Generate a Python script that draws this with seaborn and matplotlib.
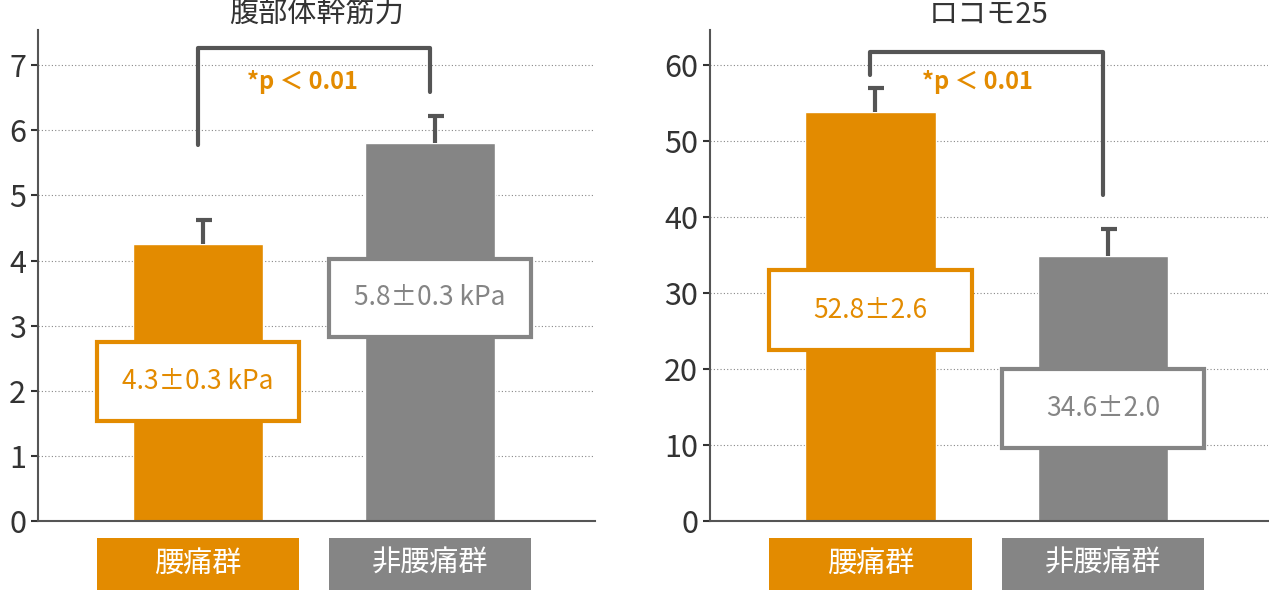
import matplotlib
matplotlib.use("Agg")
import matplotlib.pyplot as plt
import seaborn as sns
import pandas as pd
from matplotlib.patches import Rectangle

sns.set_style("white")
plt.rcParams['font.family'] = ['Noto Sans CJK JP', 'DejaVu Sans']

groups = ["腰痛群", "非腰痛群"]
colors = ["#E38B00", "#858585"]
left_vals = [4.25, 5.8]
left_err = [0.37, 0.42]
left_labels = ["4.3±0.3 kPa", "5.8±0.3 kPa"]
right_vals = [53.8, 34.9]
right_err = [3.2, 3.5]
right_labels = ["52.8±2.6", "34.6±2.0"]

W, H = 1269, 593
fig = plt.figure(figsize=(W/100, H/100), dpi=100)
axL = fig.add_axes([38/W, 72/H, 557/W, 491/H])
axR = fig.add_axes([710/W, 72/H, 558/W, 491/H])

def draw(ax, vals, errs, labels, title, ylim, yticks, boxes, bracket, ptext):
    df = pd.DataFrame({"g": groups, "v": vals})
    sns.barplot(data=df, x="g", y="v", hue="g", palette=colors, width=0.56,
                ax=ax, legend=False, saturation=1)
    for i, (v, e) in enumerate(zip(vals, errs)):
        ax.plot([i + 0.02, i + 0.02], [v, v + e], color="#555555", lw=3, solid_capstyle="butt")
        ax.plot([i - 0.01, i + 0.06], [v + e, v + e], color="#555555", lw=3, solid_capstyle="butt")
    ax.set_xlim(-0.69, 1.71)
    ax.set_ylim(*ylim)
    ax.set_yticks(yticks)
    for t in yticks[1:]:
        ax.axhline(t, color="#888888", lw=0.8, ls=(0, (1, 2)), zorder=0)
    ax.set_xticks([])
    ax.set_xlabel(""); ax.set_ylabel("")
    ax.tick_params(axis="y", labelsize=22, colors="#333333", length=5, width=1.5, direction="out", left=True)
    for s in ["top", "right"]:
        ax.spines[s].set_visible(False)
    for s in ["left", "bottom"]:
        ax.spines[s].set_color("#555555"); ax.spines[s].set_linewidth(1.5)
    ax.set_title(title, fontsize=21, color="#333333", pad=0)
    for i, ((y0, y1), lab) in enumerate(zip(boxes, labels)):
        ax.add_patch(Rectangle((i - 0.435, y0), 0.87, y1 - y0, facecolor="white",
                               edgecolor=colors[i], lw=3, zorder=5))
        ax.text(i, (y0 + y1) / 2, lab, ha="center", va="center", fontsize=19,
                color=colors[i], zorder=6)
    a, b, c = bracket
    ax.plot([0, 0, 1, 1], [a, b, b, c], color="#555555", lw=3, clip_on=False)
    ax.text(ptext[0], ptext[1], "*p ＜ 0.01", ha="center", va="center", fontsize=17,
            color=colors[0], fontweight="bold")
    tr = ax.get_xaxis_transform()
    for i, g in enumerate(groups):
        ax.add_patch(Rectangle((i - 0.435, -0.1405), 0.87, 0.106, transform=tr,
                               facecolor=colors[i], edgecolor="none", clip_on=False))
        ax.text(i, -0.0875, g, transform=tr, ha="center", va="center",
                fontsize=21, color="white")

draw(axL, left_vals, left_err, left_labels, "腹部体幹筋力", (0, 7.54), [0, 1, 2, 3, 4, 5, 6, 7],
     [(1.54, 2.75), (2.83, 4.02)], (5.78, 7.27, 6.59), (0.45, 6.74))
draw(axR, right_vals, right_err, right_labels, "ロコモ25", (0, 64.6), [0, 10, 20, 30, 40, 50, 60],
     [(22.5, 33.0), (9.6, 20.0)], (58.7, 61.7, 42.9), (0.46, 57.8))

fig.savefig("out.png", dpi=100)
